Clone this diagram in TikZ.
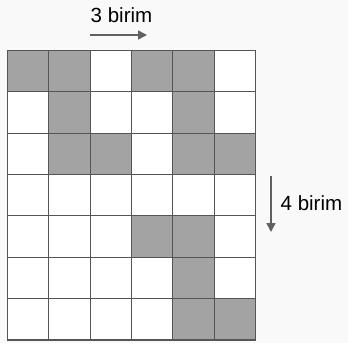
\documentclass[tikz,border=0pt]{standalone}
\usepackage{fontspec}
\setmainfont{Liberation Sans}
\usetikzlibrary{arrows.meta}
\definecolor{bgc}{HTML}{F9F9F9}
\definecolor{shade}{HTML}{A3A3A3}
\definecolor{linec}{HTML}{555555}
\definecolor{arrc}{HTML}{606060}
\tikzset{
  cell/.style={draw=linec, line width=1.1pt, fill=white},
  filled/.style={draw=linec, line width=1.1pt, fill=shade},
  lbl/.style={font=\fontsize{20.5}{24}\selectfont, text=black, inner sep=0pt},
  arr/.style={draw=arrc, line width=1.6pt, -{Triangle[length=9pt,width=9pt]}}
}
\begin{document}
\begin{tikzpicture}[x=1pt,y=-1pt]
\fill[bgc] (0,0) rectangle (348,343);
\useasboundingbox (0,0) rectangle (348,343);
\def\cw{41.35}
\def\ch{41.35}
\foreach \r in {0,...,6}{
  \foreach \c in {0,...,5}{
    \draw[cell] ({7.5+\c*\cw},{50.5+\r*\ch}) rectangle ++(\cw,\ch);
  }
}
\foreach \r/\c in {0/0,0/1,0/3,0/4,1/1,1/4,2/1,2/2,2/4,2/5,4/3,4/4,5/4,6/4,6/5}{
  \draw[filled] ({7.5+\c*\cw},{50.5+\r*\ch}) rectangle ++(\cw,\ch);
}
\node[lbl] (t3) at (121.5,15) {3 birim};
\coordinate (a1) at (90,35);
\coordinate (a2) at (147,35);
\draw[arr] (a1) -- (a2);
\node[lbl, anchor=west] (t4) at (280.5,203) {4 birim};
\coordinate (b1) at (271,176);
\coordinate (b2) at (271,232);
\draw[arr] (b1) -- (b2);
\end{tikzpicture}
\end{document}
